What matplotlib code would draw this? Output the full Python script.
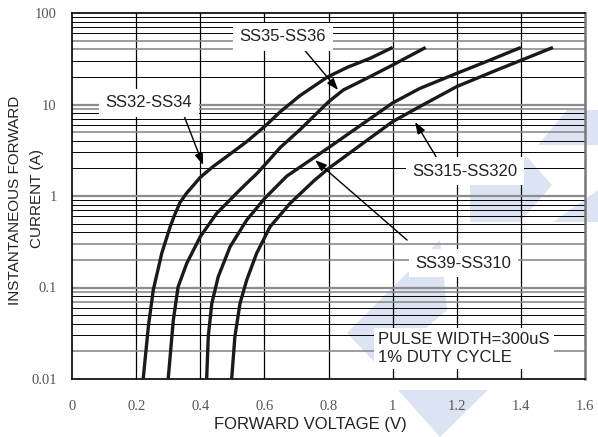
import matplotlib
matplotlib.use("Agg")
import matplotlib.pyplot as plt
from matplotlib.patches import Polygon
from matplotlib.ticker import FixedLocator, FixedFormatter, NullFormatter

# ---------------- data ----------------
v_ss32 = [0.222, 0.238, 0.2535, 0.28, 0.306, 0.32, 0.337, 0.357, 0.378, 0.40, 0.44, 0.482, 0.545, 0.602, 0.649, 0.711, 0.797, 0.86, 0.93, 1.0]
i_ss32 = [0.01, 0.037, 0.094, 0.237, 0.46, 0.62, 0.85, 1.07, 1.3, 1.6, 2.1, 2.69, 3.93, 5.8, 8.3, 12.5, 20.0, 25.6, 32.0, 42.0]

v_ss35 = [0.30, 0.316, 0.331, 0.358, 0.40, 0.451, 0.482, 0.514, 0.545, 0.576, 0.602, 0.65, 0.711, 0.80, 0.846, 0.919, 1.0, 1.103]
i_ss35 = [0.01, 0.044, 0.102, 0.184, 0.359, 0.645, 0.83, 1.08, 1.38, 1.75, 2.2, 3.4, 5.3, 10.7, 14.4, 19.3, 27.0, 42.0]

v_ss39 = [0.42, 0.425, 0.436, 0.456, 0.493, 0.545, 0.602, 0.67, 0.80, 1.0, 1.085, 1.2, 1.304, 1.4]
i_ss39 = [0.01, 0.029, 0.067, 0.131, 0.279, 0.547, 0.95, 1.65, 3.37, 10.4, 15.0, 21.9, 30.6, 42.0]

v_ss315 = [0.498, 0.508, 0.524, 0.545, 0.576, 0.6175, 0.68, 0.753, 0.80, 1.0, 1.085, 1.2, 1.325, 1.5]
i_ss315 = [0.01, 0.029, 0.067, 0.121, 0.237, 0.46, 0.83, 1.45, 2.0, 6.5, 9.5, 15.7, 23.8, 42.0]

x_ticks = [0, 0.2, 0.4, 0.6, 0.8, 1.0, 1.2, 1.4, 1.6]
x_tick_labels = ["0", "0.2", "0.4", "0.6", "0.8", "1", "1.2", "1.4", "1.6"]
y_ticks = [0.01, 0.1, 1, 10, 100]
y_tick_labels = ["0.01", "0.1", "1", "10", "100"]

# ---------------- figure ----------------
W, H = 598, 437
fig = plt.figure(figsize=(W / 100, H / 100), dpi=100)
fig.patch.set_facecolor("white")

def fx(px):
    return px / W

def fy(py):
    return 1 - py / H

# watermark (decorative, behind the chart)
wm_color = "#dce3f3"
wm_shapes = [
    [(538, 145), (567, 110), (598, 110), (598, 145)],
    [(470, 157), (527, 157), (552, 185), (520, 222), (470, 222)],
    [(553, 222), (598, 190), (598, 222)],
    [(347, 333), (440, 240), (447, 310), (380, 368)],
    [(398, 390), (488, 390), (440, 437)],
]
for shp in wm_shapes:
    fig.patches.append(Polygon([(fx(a), fy(b)) for a, b in shp], closed=True,
                               transform=fig.transFigure, facecolor=wm_color,
                               edgecolor="none", zorder=0))

ax = fig.add_axes([fx(72), fy(379), fx(585) - fx(72), fy(13) - fy(379)])
ax.set_facecolor("none")
ax.set_zorder(1)
ax.set_yscale("log")
ax.set_xlim(0, 1.6)
ax.set_ylim(0.01, 100)

# grid
for xv in x_ticks[1:-1]:
    ax.axvline(xv, color="black", lw=0.9, zorder=1)
gray_minor = [0.02, 0.07, 0.09, 0.2, 0.3, 5, 9, 40, 50]
dec = 0.01
while dec < 100:
    for m in range(2, 10):
        val = m * dec
        if any(abs(val - g) < 1e-6 * g for g in gray_minor):
            ax.axhline(val, color="#8c8c8c", lw=1.2, zorder=1)
        else:
            ax.axhline(val, color="black", lw=0.7, zorder=1)
    dec *= 10
for d in [0.1, 1, 10]:
    ax.axhline(d, color="#8c8c8c", lw=1.6, zorder=1)

for s in ["left", "bottom", "top"]:
    ax.spines[s].set_color("black")
    ax.spines[s].set_linewidth(1.2)
ax.spines["right"].set_color("#777777")
ax.spines["right"].set_linewidth(1.8)

# curves
curve_kw = dict(color="#1a1a1a", lw=2.4, solid_capstyle="butt", solid_joinstyle="round", zorder=3)
ax.plot(v_ss32, i_ss32, **curve_kw)
ax.plot(v_ss35, i_ss35, **curve_kw)
ax.plot(v_ss39, i_ss39, **curve_kw)
ax.plot(v_ss315, i_ss315, **curve_kw)

# ticks
ax.xaxis.set_major_locator(FixedLocator(x_ticks))
ax.xaxis.set_major_formatter(FixedFormatter(x_tick_labels))
ax.yaxis.set_major_locator(FixedLocator(y_ticks))
ax.yaxis.set_major_formatter(FixedFormatter(y_tick_labels))
ax.yaxis.set_minor_formatter(NullFormatter())
ax.tick_params(which="both", length=0)
ax.tick_params(axis="x", pad=15)
ax.tick_params(axis="y", pad=11)
for lab in ax.get_xticklabels() + ax.get_yticklabels():
    lab.set_fontfamily("Liberation Serif")
    lab.set_fontsize(10.5)
    lab.set_color("#555555")

# axis labels
sans = "Liberation Sans"
fig.text(fx(310), fy(424), "FORWARD VOLTAGE (V)", ha="center", va="center",
         fontfamily=sans, fontsize=12, color="#222222")
fig.text(fx(15), fy(200), "INSTANTANEOUS FORWARD", ha="center", va="center",
         rotation=90, fontfamily=sans, fontsize=11, color="#222222")
fig.text(fx(37), fy(198), "CURRENT (A)", ha="center", va="center",
         rotation=90, fontfamily=sans, fontsize=11, color="#222222")

# annotations
box = dict(boxstyle="square,pad=0.4", fc="white", ec="none")
arrow = dict(arrowstyle="-|>,head_length=0.7,head_width=0.25", color="black", lw=1.0,
             shrinkA=0, shrinkB=0)
ann_kw = dict(fontfamily=sans, fontsize=12, color="#222222", ha="center", va="center", zorder=5)

ax.annotate("", xy=(0.83, 14.4), xytext=(0.72, 41.4), arrowprops=arrow, zorder=4)
ax.text(0.658, 54.7, "SS35-SS36", bbox=box, **ann_kw)

ax.annotate("", xy=(0.409, 2.18), xytext=(0.346, 8.07), arrowprops=arrow, zorder=4)
ax.text(0.24, 10.4, "SS32-SS34", bbox=box, **ann_kw)

ax.annotate("", xy=(1.07, 6.44), xytext=(1.138, 2.6), arrowprops=arrow, zorder=4)
ax.text(1.226, 1.87, "SS315-SS320", bbox=box, **ann_kw)

ax.annotate("", xy=(0.758, 2.47), xytext=(1.045, 0.33), arrowprops=arrow, zorder=4)
ax.text(1.22, 0.185, "SS39-SS310", bbox=box, **ann_kw)

ax.text(0.954, 0.0215, "PULSE WIDTH=300uS\n1% DUTY CYCLE", fontfamily=sans, fontsize=12,
        color="#222222", ha="left", va="center", linespacing=1.2, zorder=5,
        bbox=dict(boxstyle="square,pad=0.25", fc="white", ec="none"))

fig.savefig("out.png", dpi=100, facecolor="white")
